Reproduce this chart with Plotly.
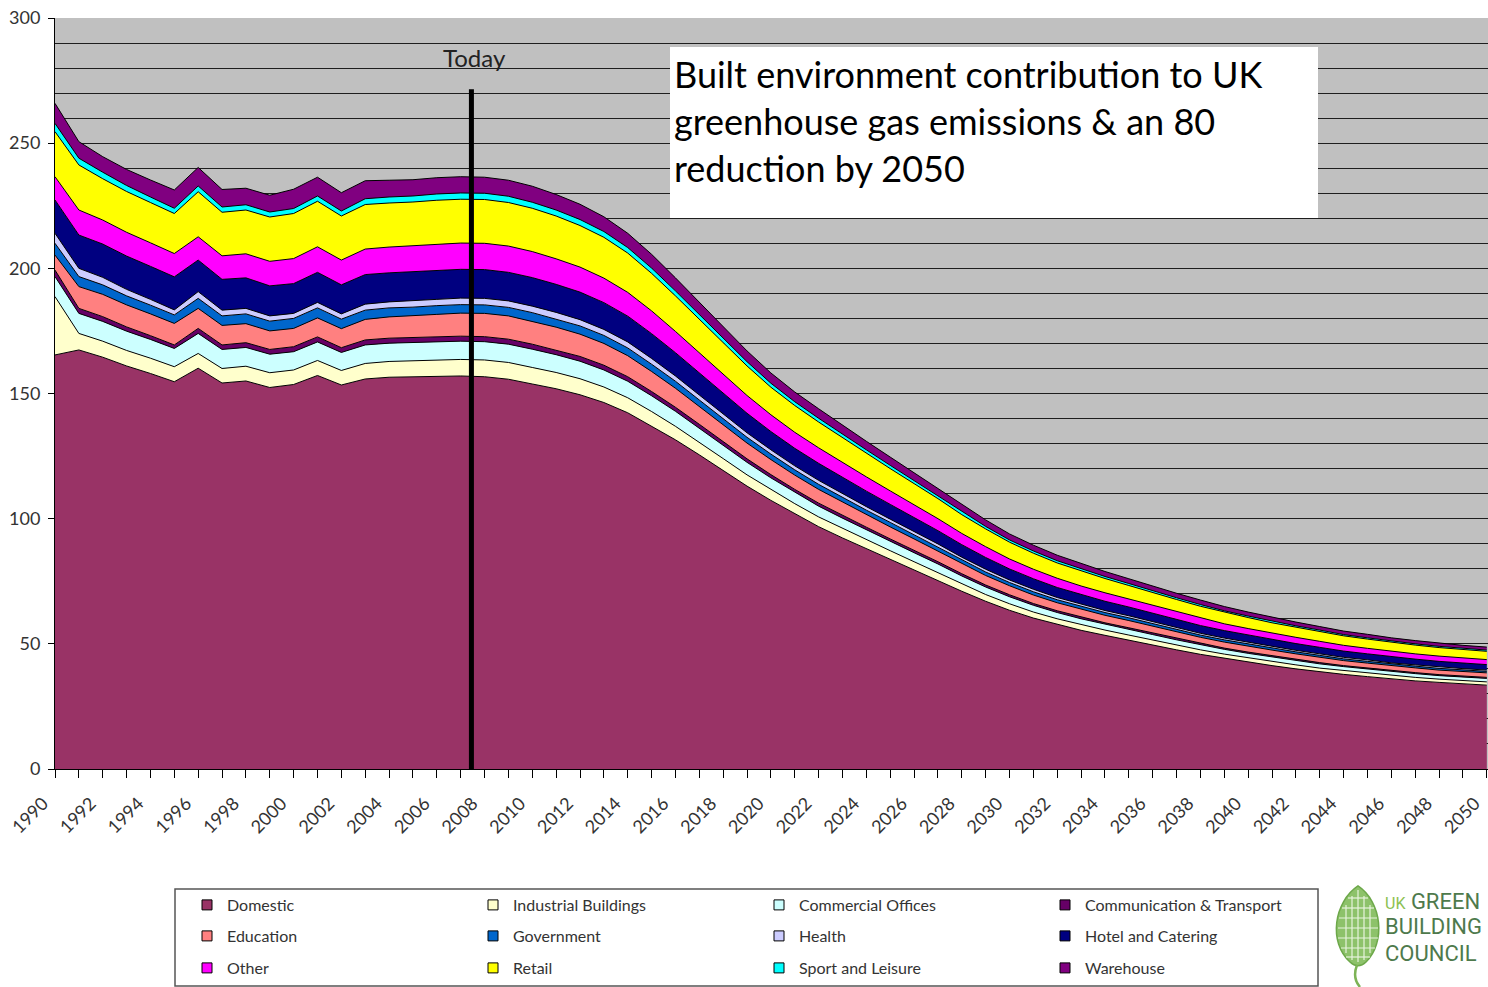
import plotly.graph_objects as go

# ---------------------------------------------------------------------------
# Data: built environment greenhouse gas emissions by sector (MtCO2e),
# 1990-2008 actuals followed by the pathway to an 80% cut by 2050.
# ---------------------------------------------------------------------------
years = list(range(1990, 2051))
year_labels = [str(y) if y % 2 == 0 else "" for y in years]
today_year = 2007.45

domestic = [
    165.4, 167.4, 164.5, 161.0, 158.0, 154.7, 160.1, 154.2, 155.0, 152.4,
    153.6, 157.2, 153.4, 155.8, 156.5, 156.6, 156.8, 157.0, 156.7, 155.7,
    153.8, 151.9, 149.5, 146.4, 142.3, 137.0, 131.5, 125.5, 119.2, 113.0,
    107.3, 101.9, 96.8, 92.3, 88.0, 83.8, 79.6, 75.4, 71.0, 67.0,
    63.4, 60.3, 57.7, 55.4, 53.4, 51.4, 49.5, 47.6, 45.8, 44.2,
    42.7, 41.3, 40.0, 38.8, 37.8, 36.9, 36.0, 35.2, 34.6, 34.0,
    33.5]
industrial = [
    23.3, 6.6, 6.4, 6.2, 6.1, 6.0, 5.9, 5.8, 5.9, 5.9,
    5.8, 6.0, 5.8, 6.2, 6.3, 6.4, 6.5, 6.6, 6.7, 6.7,
    6.6, 6.5, 6.4, 6.2, 6.0, 5.8, 5.4, 5.1, 4.8, 4.5,
    4.3, 4.1, 3.9, 3.8, 3.6, 3.4, 3.2, 3.1, 2.9, 2.7,
    2.6, 2.4, 2.3, 2.2, 2.1, 2.1, 2.0, 1.9, 1.8, 1.7,
    1.7, 1.6, 1.6, 1.5, 1.5, 1.4, 1.4, 1.4, 1.3, 1.3,
    1.3]
commercial = [
    8.0, 8.0, 7.9, 7.7, 7.5, 7.3, 8.0, 7.6, 7.5, 7.4,
    7.3, 7.4, 7.2, 7.4, 7.3, 7.3, 7.3, 7.3, 7.3, 7.3,
    7.3, 7.1, 7.0, 6.8, 6.6, 6.3, 6.0, 5.6, 5.3, 5.0,
    4.7, 4.5, 4.3, 4.1, 3.9, 3.7, 3.6, 3.4, 3.2, 3.0,
    2.8, 2.7, 2.5, 2.4, 2.3, 2.3, 2.2, 2.1, 2.0, 1.9,
    1.8, 1.8, 1.7, 1.7, 1.6, 1.6, 1.5, 1.5, 1.4, 1.4,
    1.4]
comm_transport = [
    2.6, 2.0, 1.9, 1.7, 1.5, 1.4, 2.0, 1.8, 1.9, 1.9,
    2.0, 2.0, 1.9, 2.0, 2.0, 2.0, 2.0, 2.0, 2.0, 2.0,
    2.0, 1.9, 1.9, 1.9, 1.8, 1.7, 1.6, 1.5, 1.4, 1.4,
    1.3, 1.2, 1.2, 1.1, 1.1, 1.0, 1.0, 0.9, 0.9, 0.8,
    0.8, 0.7, 0.7, 0.7, 0.6, 0.6, 0.6, 0.6, 0.5, 0.5,
    0.5, 0.5, 0.5, 0.5, 0.4, 0.4, 0.4, 0.4, 0.4, 0.4,
    0.4]
education = [
    6.0, 8.7, 8.9, 8.8, 8.7, 8.6, 8.0, 7.8, 7.6, 7.4,
    7.3, 7.6, 7.6, 8.2, 8.5, 8.7, 9.0, 9.2, 9.3, 9.3,
    9.2, 9.1, 8.9, 8.7, 8.4, 8.0, 7.6, 7.1, 6.7, 6.3,
    6.0, 5.7, 5.5, 5.3, 5.0, 4.8, 4.5, 4.3, 4.0, 3.8,
    3.6, 3.4, 3.2, 3.1, 3.0, 2.9, 2.7, 2.6, 2.5, 2.4,
    2.3, 2.3, 2.2, 2.1, 2.0, 2.0, 1.9, 1.9, 1.8, 1.8,
    1.8]
government = [
    4.7, 4.0, 3.8, 3.6, 3.5, 3.4, 4.0, 3.8, 3.9, 3.9,
    4.0, 4.0, 3.8, 3.7, 3.6, 3.5, 3.5, 3.4, 3.4, 3.4,
    3.4, 3.3, 3.3, 3.2, 3.1, 2.9, 2.8, 2.6, 2.5, 2.3,
    2.2, 2.1, 2.0, 1.9, 1.8, 1.8, 1.7, 1.6, 1.5, 1.4,
    1.3, 1.3, 1.2, 1.1, 1.1, 1.1, 1.0, 1.0, 0.9, 0.9,
    0.9, 0.8, 0.8, 0.8, 0.7, 0.7, 0.7, 0.7, 0.7, 0.7,
    0.6]
health = [
    4.0, 3.3, 3.0, 2.6, 2.3, 2.0, 2.7, 2.3, 2.2, 2.1,
    2.0, 2.2, 2.1, 2.4, 2.4, 2.5, 2.5, 2.6, 2.6, 2.6,
    2.6, 2.6, 2.5, 2.4, 2.4, 2.3, 2.1, 2.0, 1.9, 1.8,
    1.7, 1.6, 1.6, 1.5, 1.4, 1.3, 1.3, 1.2, 1.1, 1.1,
    1.0, 1.0, 0.9, 0.9, 0.8, 0.8, 0.8, 0.7, 0.7, 0.7,
    0.7, 0.6, 0.6, 0.6, 0.6, 0.6, 0.5, 0.5, 0.5, 0.5,
    0.5]
hotel = [
    13.3, 13.3, 13.3, 13.3, 13.2, 13.2, 12.6, 12.3, 12.2, 12.0,
    11.9, 12.0, 11.6, 11.8, 11.6, 11.6, 11.6, 11.5, 11.5, 11.4,
    11.4, 11.2, 11.0, 10.7, 10.3, 9.9, 9.3, 8.8, 8.3, 7.8,
    7.3, 7.0, 6.8, 6.5, 6.2, 5.9, 5.6, 5.3, 5.0, 4.7,
    4.4, 4.2, 4.0, 3.8, 3.7, 3.5, 3.4, 3.3, 3.1, 3.0,
    2.9, 2.8, 2.7, 2.6, 2.5, 2.4, 2.4, 2.3, 2.3, 2.2,
    2.2]
other = [
    9.3, 10.0, 9.6, 9.5, 9.4, 9.3, 9.3, 9.4, 9.6, 9.8,
    10.0, 10.2, 9.9, 10.2, 10.3, 10.4, 10.4, 10.5, 10.5, 10.5,
    10.4, 10.2, 10.0, 9.8, 9.5, 9.1, 8.5, 8.0, 7.6, 7.1,
    6.7, 6.4, 6.2, 5.9, 5.7, 5.4, 5.1, 4.8, 4.5, 4.3,
    4.0, 3.8, 3.7, 3.5, 3.4, 3.2, 3.1, 3.0, 2.9, 2.7,
    2.6, 2.5, 2.5, 2.4, 2.3, 2.2, 2.2, 2.1, 2.1, 2.0,
    2.0]
retail = [
    18.0, 18.0, 16.5, 16.3, 16.1, 16.0, 18.0, 17.4, 17.5, 17.7,
    18.0, 18.2, 17.6, 17.8, 17.6, 17.5, 17.6, 17.5, 17.5, 17.4,
    17.3, 17.1, 16.6, 16.3, 15.7, 15.0, 14.2, 13.4, 12.5, 11.8,
    11.0, 10.7, 10.3, 9.9, 9.5, 8.9, 8.4, 8.0, 7.5, 7.1,
    6.7, 6.4, 6.1, 6.0, 5.7, 5.4, 5.1, 4.9, 4.8, 4.6,
    4.4, 4.2, 4.0, 3.9, 3.8, 3.7, 3.6, 3.5, 3.4, 3.4,
    3.3]
sport = [
    3.3, 2.7, 2.6, 2.4, 2.2, 2.1, 2.3, 2.1, 2.1, 2.0,
    2.0, 2.1, 2.0, 2.3, 2.4, 2.4, 2.5, 2.5, 2.5, 2.5,
    2.4, 2.4, 2.4, 2.3, 2.2, 2.1, 2.0, 1.9, 1.8, 1.7,
    1.6, 1.5, 1.5, 1.4, 1.3, 1.3, 1.2, 1.1, 1.1, 1.0,
    0.9, 0.9, 0.9, 0.8, 0.8, 0.8, 0.7, 0.7, 0.7, 0.6,
    0.6, 0.6, 0.6, 0.6, 0.5, 0.5, 0.5, 0.5, 0.5, 0.5,
    0.5]
warehouse = [
    8.0, 6.6, 6.2, 6.4, 6.8, 7.3, 7.4, 7.0, 6.6, 6.7,
    7.7, 7.5, 7.3, 7.2, 6.7, 6.5, 6.5, 6.5, 6.4, 6.4,
    6.4, 6.2, 6.1, 5.9, 5.7, 5.5, 5.2, 4.9, 4.6, 4.3,
    4.1, 3.9, 3.8, 3.6, 3.4, 3.3, 3.1, 2.9, 2.8, 2.6,
    2.4, 2.3, 2.2, 2.1, 2.0, 1.9, 1.9, 1.8, 1.8, 1.7,
    1.6, 1.6, 1.5, 1.4, 1.4, 1.4, 1.3, 1.3, 1.3, 1.2,
    1.2]

# Stack order, bottom to top, with the sector fill colours
sectors = [
    ("Domestic", domestic, "#993366"),
    ("Industrial Buildings", industrial, "#FFFFCC"),
    ("Commercial Offices", commercial, "#CCFFFF"),
    ("Communication & Transport", comm_transport, "#660066"),
    ("Education", education, "#FF8080"),
    ("Government", government, "#0066CC"),
    ("Health", health, "#CCCCFF"),
    ("Hotel and Catering", hotel, "#000080"),
    ("Other", other, "#FF00FF"),
    ("Retail", retail, "#FFFF00"),
    ("Sport and Leisure", sport, "#00FFFF"),
    ("Warehouse", warehouse, "#800080"),
]

FONT = "Lato, 'Open Sans', sans-serif"
TEXT_GREY = "#333333"

# Plot-area geometry in pixels (used to place the non-data decorations)
W, H = 1488, 987
PL, PR, PT, PB = 55, 1488, 18, 769


def px(x):
    return (x - PL) / (PR - PL)


def py(y):
    return (PB - y) / (PB - PT)


fig = go.Figure()

# Stacked areas
for name, vals, col in sectors:
    fig.add_trace(go.Scatter(
        x=years, y=vals, name=name, stackgroup="emissions", mode="lines",
        line=dict(color="#000000", width=1), fillcolor=col,
        showlegend=False, legendgroup=name,
        hovertemplate=name + " %{x}: %{y:.1f}<extra></extra>",
    ))

# Legend swatches: three rows of four entries
legend_ids = ["legend", "legend2", "legend3"]
for i, (name, vals, col) in enumerate(sectors):
    fig.add_trace(go.Scatter(
        x=[None], y=[None], mode="markers", name=name,
        marker=dict(symbol="square", size=10, color=col,
                    line=dict(color="#000000", width=1)),
        legend=legend_ids[i // 4], legendgroup=name, showlegend=True,
    ))

row_centres = [905, 936, 968]
legend_common = dict(
    orientation="h", entrywidth=241, entrywidthmode="pixels",
    xanchor="left", yanchor="middle", x=px(187),
    bgcolor="rgba(0,0,0,0)", borderwidth=0,
    font=dict(family=FONT, size=16, color=TEXT_GREY),
)
legend_layout = {}
for lid, yc in zip(legend_ids, row_centres):
    legend_layout[lid] = dict(legend_common, y=py(yc))

shapes = [
    # "Today" marker
    dict(type="line", xref="x", yref="y", x0=today_year, x1=today_year,
         y0=0, y1=271.5, line=dict(color="#000000", width=5), layer="above"),
    # Title panel
    dict(type="rect", xref="paper", yref="paper",
         x0=px(670), x1=px(1318), y0=py(218), y1=py(47),
         fillcolor="#FFFFFF", line=dict(width=0), layer="above"),
    # Legend frame
    dict(type="rect", xref="paper", yref="paper",
         x0=px(175), x1=px(1318), y0=py(986), y1=py(889),
         fillcolor="rgba(0,0,0,0)", line=dict(color="#555555", width=1.5)),
]


def leaf_path(points):
    out = []
    for cmd, coords in points:
        pts = " ".join(f"{px(a):.5f},{py(b):.5f}" for a, b in coords)
        out.append(f"{cmd} {pts}")
    return " ".join(out) + " Z"


# Council logo leaf
shapes.append(dict(
    type="path", xref="paper", yref="paper",
    path=leaf_path([
        ("M", [(1358, 886)]),
        ("C", [(1334, 902), (1328, 942), (1350, 962)]),
        ("C", [(1355, 967), (1361, 967), (1366, 962)]),
        ("C", [(1386, 942), (1382, 902), (1358, 886)]),
    ]),
    fillcolor="#8DC26A", line=dict(color="#6DA84A", width=1.5),
))
shapes.append(dict(
    type="path", xref="paper", yref="paper",
    path=f"M {px(1357):.5f},{py(965):.5f} Q {px(1352):.5f},{py(978):.5f} {px(1360):.5f},{py(987):.5f}",
    line=dict(color="#7DB356", width=2.5),
))
for yy, half in [(898, 10), (908, 16), (918, 19), (928, 20), (938, 20), (948, 17), (957, 12)]:
    shapes.append(dict(type="line", xref="paper", yref="paper",
                       x0=px(1358 - half), x1=px(1358 + half), y0=py(yy), y1=py(yy),
                       line=dict(color="#E8F3DD", width=1.2)))
for xx, top, bot in [(1346, 905, 953), (1352, 896, 960), (1358, 890, 962), (1364, 896, 960), (1370, 905, 953)]:
    shapes.append(dict(type="line", xref="paper", yref="paper",
                       x0=px(xx), x1=px(xx), y0=py(bot), y1=py(top),
                       line=dict(color="#E8F3DD", width=1.2)))

LOGO_FONT = "'Liberation Sans Narrow', 'Roboto', sans-serif"
LOGO_GREEN = "#4E7A4C"
annotations = [
    dict(text="Today", xref="paper", yref="paper", x=px(474), y=py(57),
         showarrow=False, xanchor="center", yanchor="middle",
         font=dict(family=FONT, size=24, color="#222222")),
    dict(text="Built environment contribution to UK<br>greenhouse gas emissions &amp; an 80<br>reduction by 2050",
         xref="paper", yref="paper", x=px(672), y=py(50),
         showarrow=False, xanchor="left", yanchor="top", align="left",
         font=dict(family=FONT, size=36, color="#000000")),
    dict(text="<span style='color:#8CC152;font-size:16px'>UK</span> GREEN",
         xref="paper", yref="paper", x=px(1383), y=py(901),
         showarrow=False, xanchor="left", yanchor="middle",
         font=dict(family=LOGO_FONT, size=22, color=LOGO_GREEN)),
    dict(text="BUILDING", xref="paper", yref="paper", x=px(1383), y=py(927),
         showarrow=False, xanchor="left", yanchor="middle",
         font=dict(family=LOGO_FONT, size=22, color=LOGO_GREEN)),
    dict(text="COUNCIL", xref="paper", yref="paper", x=px(1383), y=py(953),
         showarrow=False, xanchor="left", yanchor="middle",
         font=dict(family=LOGO_FONT, size=22, color=LOGO_GREEN)),
]

fig.update_layout(
    width=W, height=H,
    margin=dict(l=PL, r=W - PR, t=PT, b=H - PB, autoexpand=False),
    paper_bgcolor="#FFFFFF", plot_bgcolor="#C0C0C0",
    font=dict(family=FONT, color=TEXT_GREY),
    showlegend=True,
    shapes=shapes, annotations=annotations,
    hovermode="closest",
    **legend_layout,
)

fig.update_xaxes(
    range=[1990, 2050.05], tickmode="array", tickvals=years, ticktext=year_labels,
    tickangle=-45, ticks="outside", ticklen=8, tickcolor="#000000",
    ticklabelshift=-12, ticklabelstandoff=8,
    showline=True, linecolor="#000000", linewidth=1,
    showgrid=False, zeroline=False, automargin=False,
    tickfont=dict(family=FONT, size=18, color=TEXT_GREY),
)
fig.update_yaxes(
    range=[0, 300], tickmode="array", tickvals=[0, 50, 100, 150, 200, 250, 300],
    ticks="outside", ticklen=6, tickcolor="#000000", ticklabelstandoff=4,
    showline=True, linecolor="#000000", linewidth=1,
    showgrid=True, gridcolor="#1E1E1E", gridwidth=1,
    minor=dict(tickmode="linear", tick0=0, dtick=10, showgrid=True,
               gridcolor="#1E1E1E", gridwidth=1, ticks=""),
    zeroline=False, automargin=False,
    tickfont=dict(family=FONT, size=18, color=TEXT_GREY),
)

fig.write_html("out.html")
